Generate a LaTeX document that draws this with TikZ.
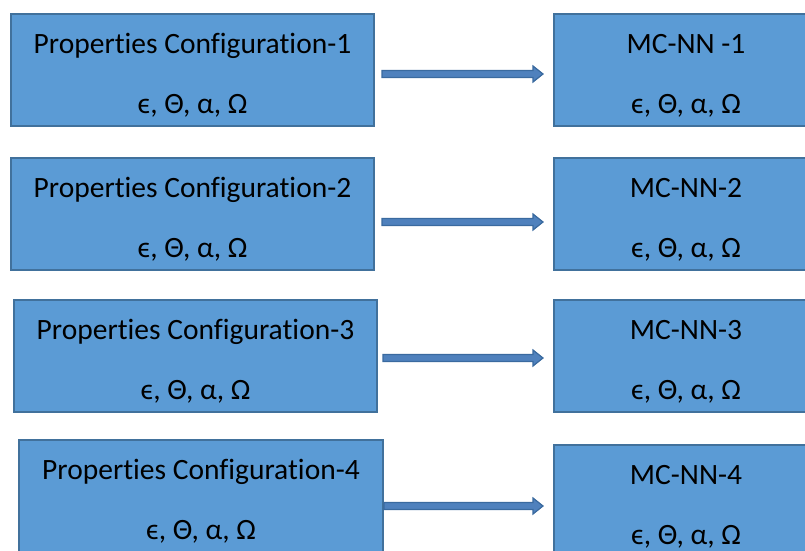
\documentclass[tikz,border=0pt]{standalone}
\usepackage{fontspec}
\setmainfont{Carlito}[Ligatures=CommonOff]
\usetikzlibrary{calc}
\definecolor{boxfill}{HTML}{5B9BD5}
\definecolor{boxline}{HTML}{41719C}
\definecolor{arrfill}{HTML}{4F81BD}
\definecolor{arrline}{HTML}{3A6A9F}
\tikzset{
  box/.style={draw=boxline, line width=2pt, fill=boxfill, rectangle,
    minimum height=112pt, inner sep=0pt, anchor=north west},
  lbox/.style={box, minimum width=363pt},
  rbox/.style={box, minimum width=264pt},
  txt/.style={anchor=base, inner sep=0pt, font=\fontsize{29.5}{34}\selectfont},
  blockarrow/.style={draw=arrline, line width=1.2pt, fill=arrfill, line join=miter}
}
% thin block arrow from point #1 to point #2 (same height)
\newcommand\flowarrow[2]{%
  \draw[blockarrow] ($(#1)+(0,-3.5)$) -- ($(#2)+(-10,-3.5)$) -- ($(#2)+(-10,-8)$)
    -- (#2) -- ($(#2)+(-10,8)$) -- ($(#2)+(-10,3.5)$) -- ($(#1)+(0,3.5)$) -- cycle;}
\begin{document}
\begin{tikzpicture}[x=1pt, y=-1pt]
  \useasboundingbox (0,0) rectangle (805,550);
  \clip (0,0) rectangle (805,550);
  % left column: property configurations
  \node[lbox] (L1) at (10,13) {};
  \node[lbox] (L2) at (10,157) {};
  \node[lbox] (L3) at (13,299) {};
  \node[lbox, minimum width=364pt] (L4) at (18,439) {};
  % right column: MC-NN models
  \node[rbox] (R1) at (553,13) {};
  \node[rbox] (R2) at (553,157) {};
  \node[rbox] (R3) at (553,299) {};
  \node[rbox] (R4) at (553,444) {};
  % texts
  \foreach \b/\t in {L1/Properties Configuration-1, L2/Properties Configuration-2,
      L3/Properties Configuration-3, L4/Properties Configuration-4,
      R1/MC-NN -1, R2/MC-NN-2, R3/MC-NN-3, R4/MC-NN-4} {
    \node[txt] (\b t) at ($(\b.north)+(0,40)$) {\t};
    \node[txt] (\b s) at ($(\b.north)+(0,100)$) {ϵ, Θ, α, Ω};
  }
  % connectors
  \coordinate (a1) at ($(L1.east)+(7,4)$);
  \coordinate (b1) at ($(R1.west |- a1)+(-10,0)$);
  \flowarrow{a1}{b1}
  \coordinate (a2) at ($(L2.east)+(7,8)$);
  \coordinate (b2) at ($(R2.west |- a2)+(-10,0)$);
  \flowarrow{a2}{b2}
  \coordinate (a3) at ($(L3.east)+(5,2)$);
  \coordinate (b3) at ($(R3.west |- a3)+(-10,0)$);
  \flowarrow{a3}{b3}
  \coordinate (a4) at (L4.east |- 0,506);
  \coordinate (b4) at ($(R4.west |- a4)+(-10,0)$);
  \flowarrow{a4}{b4}
\end{tikzpicture}
\end{document}
